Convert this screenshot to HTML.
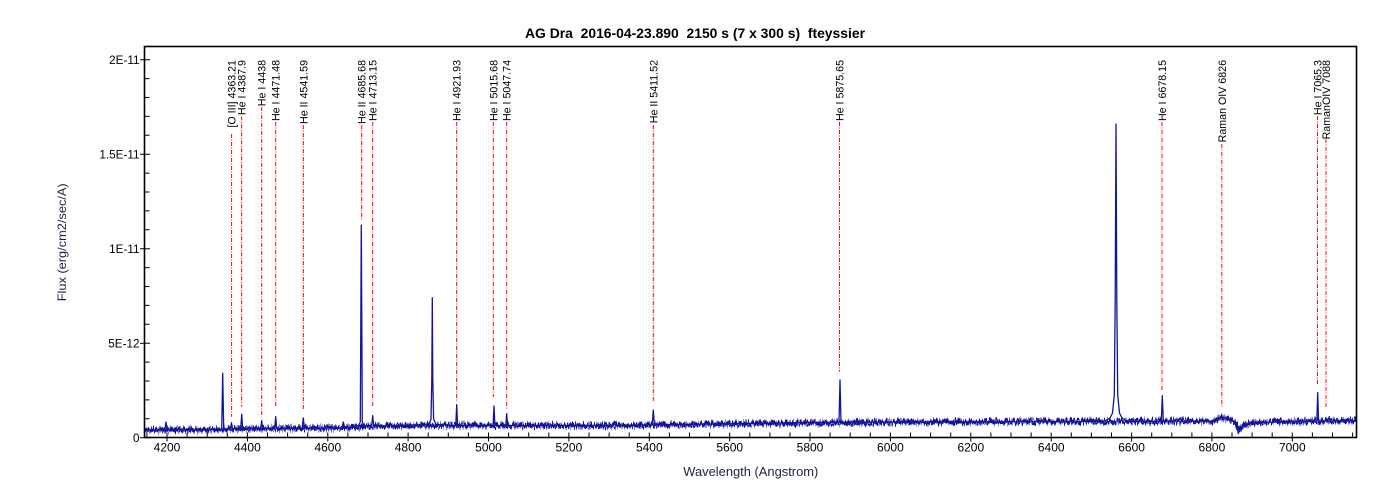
<!DOCTYPE html>
<html><head><meta charset="utf-8"><style>
html,body{margin:0;padding:0;background:#fff;}
svg{display:block;font-family:"Liberation Sans",Arial,sans-serif;}
</style></head><body>
<svg width="1400" height="500" viewBox="0 0 1400 500" xmlns="http://www.w3.org/2000/svg">
<rect width="1400" height="500" fill="#fff"/>
<defs>
<clipPath id="c"><rect x="145" y="47" width="1211" height="390"/></clipPath>
<filter id="nz" filterUnits="userSpaceOnUse" x="140" y="380" width="1225" height="70" color-interpolation-filters="sRGB">
<feTurbulence type="fractalNoise" baseFrequency="0.9 0.03" numOctaves="2" seed="7" result="t"/>
<feComponentTransfer in="t" result="t2"><feFuncR type="linear" slope="0" intercept="0.5"/><feFuncG type="linear" slope="2.2" intercept="-0.6"/></feComponentTransfer>
<feDisplacementMap in="SourceGraphic" in2="t2" scale="6" xChannelSelector="R" yChannelSelector="G"/>
</filter>
<filter id="nz2" filterUnits="userSpaceOnUse" x="140" y="380" width="1225" height="70" color-interpolation-filters="sRGB">
<feTurbulence type="fractalNoise" baseFrequency="0.7 0.03" numOctaves="2" seed="23" result="t"/>
<feComponentTransfer in="t" result="t2"><feFuncR type="linear" slope="0" intercept="0.5"/><feFuncG type="linear" slope="2.2" intercept="-0.6"/></feComponentTransfer>
<feDisplacementMap in="SourceGraphic" in2="t2" scale="5" xChannelSelector="R" yChannelSelector="G"/>
</filter>
</defs>

<text x="695" y="38" text-anchor="middle" font-size="14" font-weight="bold" fill="#000" textLength="340" lengthAdjust="spacingAndGlyphs" style="white-space:pre">AG Dra  2016-04-23.890  2150 s (7 x 300 s)  fteyssier</text>

<g stroke="#f00" stroke-width="1" stroke-dasharray="4 1.5 1 1.5" fill="none">
<path d="M231.6 134V416.7"/>
<path d="M241.7 116.5V406.7"/>
<path d="M261.7 107V416.7"/>
<path d="M275.7 122V407.5"/>
<path d="M303.3 125V410"/>
<path d="M361.7 125V220"/>
<path d="M372.7 122V406"/>
<path d="M456.7 122V401.7"/>
<path d="M493.3 122V397"/>
<path d="M506.7 122V410"/>
<path d="M653.3 125V401.7"/>
<path d="M839.5 122V371.7"/>
<path d="M1162 122V390"/>
<path d="M1221.8 144V406.7"/>
<path d="M1317.5 116V385"/>
<path d="M1326 139V408.3"/>
</g>
<g font-size="10.67" fill="#000" text-anchor="end">
<text transform="translate(235.6,60) rotate(-90)">[O III] 4363.21</text>
<text transform="translate(245.7,60) rotate(-90)">He I 4387.9</text>
<text transform="translate(265.7,60) rotate(-90)">He I 4438</text>
<text transform="translate(279.7,60) rotate(-90)">He I 4471.48</text>
<text transform="translate(307.3,60) rotate(-90)">He II 4541.59</text>
<text transform="translate(365.7,60) rotate(-90)">He II 4685.68</text>
<text transform="translate(376.7,60) rotate(-90)">He I 4713.15</text>
<text transform="translate(460.7,60) rotate(-90)">He I 4921.93</text>
<text transform="translate(497.3,60) rotate(-90)">He I 5015.68</text>
<text transform="translate(510.7,60) rotate(-90)">He I 5047.74</text>
<text transform="translate(657.3,60) rotate(-90)">He II 5411.52</text>
<text transform="translate(843.5,60) rotate(-90)">He I 5875.65</text>
<text transform="translate(1166,60) rotate(-90)">He I 6678.15</text>
<text transform="translate(1225.8,60) rotate(-90)">Raman OIV 6826</text>
<text transform="translate(1321.5,60) rotate(-90)">He I 7065.3</text>
<text transform="translate(1330,60) rotate(-90)">RamanOIV 7088</text>
</g>

<g clip-path="url(#c)" fill="none" stroke="#14149a" stroke-linejoin="round">
<polyline filter="url(#nz)" stroke-width="3.6" points="144,430 200,430 220,429.5 250,428.6 340,428 355,427.2 380,426 430,425.5 600,425.7 700,424.5 800,423.2 900,422.2 1000,421.7 1100,421.5 1200,421 1212,421 1223,417.5 1232,421 1236,422.5 1239,431 1242,427 1250,422.5 1300,421.5 1357,420.5"/>
<polyline filter="url(#nz2)" stroke-width="2.6" points="144,430 200,430 220,429.5 250,428.6 340,428 355,427.2 380,426 430,425.5 600,425.7 700,424.5 800,423.2 900,422.2 1000,421.7 1100,421.5 1200,421 1212,421 1223,417.5 1232,421 1236,422.5 1239,431 1242,427 1250,422.5 1300,421.5 1357,420.5"/>
<polyline stroke-width="1.3" points="144,430 164.8,430 166,422 167.2,430 220,429.5 221.7,429 222.7,373.3 223.7,429 230.5,428.6 231.5,422.7 232.5,428.6 240.7,428.5 241.7,414.3 242.7,428.5 260.7,428.4 261.7,420.7 262.7,428.4 274.7,428.3 275.7,416.7 276.7,428.3 302.2,428.2 303.3,418 304.4,428.2 341.8,427.8 343.3,422 344.8,427.8 355,427 358.5,425.5 360.3,422 361.3,225 362.3,422 364,425.5 371.7,426.2 372.7,415.7 373.7,426.2 429,424.5 431,419 431.8,380 432.3,297.7 432.8,380 433.6,419 436,424.5 455.8,425.5 456.7,404.7 457.6,425.5 493.1,425.5 494,406 494.9,425.5 505.8,425.5 506.7,413.7 507.6,425.5 613,425.5 615,421.5 617,425.5 652.2,424.8 653.3,410 654.4,424.8 839,422.2 840,380 841,422.2 1100,421.5 1106,420.5 1110,418 1112.5,413 1114.3,395 1115.2,300 1116,124 1116.8,300 1117.7,395 1119.5,413 1122,418 1126,420.5 1132,421.3 1161.3,421.2 1162.3,395.7 1163.3,421.2 1212,421 1223,417.3 1232,421 1236,422.5 1239,430.7 1242,426.5 1250,422.5 1316.8,421.3 1317.7,392.7 1318.6,421.3 1325,421.2 1326,418 1327,421.2 1357,420.5"/>
</g>

<rect x="144.5" y="46.5" width="1212" height="391" fill="none" stroke="#000" stroke-width="1.6"/>

<g stroke="#000" stroke-width="1">
<path d="M140 437.7H150M140 343.2H150M140 248.7H150M140 154.2H150M140 59.7H150"/>
<path d="M144.5 418.8H149.5M144.5 399.9H149.5M144.5 381H149.5M144.5 362.1H149.5M144.5 324.3H149.5M144.5 305.4H149.5M144.5 286.5H149.5M144.5 267.6H149.5M144.5 229.8H149.5M144.5 210.9H149.5M144.5 192H149.5M144.5 173.1H149.5M144.5 135.3H149.5M144.5 116.4H149.5M144.5 97.5H149.5M144.5 78.6H149.5"/>
<path d="M167 432.5V441.5M247.4 432.5V441.5M327.8 432.5V441.5M408.1 432.5V441.5M488.5 432.5V441.5M568.9 432.5V441.5M649.3 432.5V441.5M729.7 432.5V441.5M810 432.5V441.5M890.4 432.5V441.5M970.8 432.5V441.5M1051.2 432.5V441.5M1131.6 432.5V441.5M1211.9 432.5V441.5M1292.3 432.5V441.5"/>
<path d="M146.9 437.5v-5M187.1 437.5v-5M207.2 437.5v-5M227.3 437.5v-5M267.5 437.5v-5M287.6 437.5v-5M307.7 437.5v-5M347.9 437.5v-5M368 437.5v-5M388 437.5v-5M428.2 437.5v-5M448.3 437.5v-5M468.4 437.5v-5M508.6 437.5v-5M528.7 437.5v-5M548.8 437.5v-5M589 437.5v-5M609.1 437.5v-5M629.2 437.5v-5M669.4 437.5v-5M689.5 437.5v-5M709.6 437.5v-5M749.8 437.5v-5M769.9 437.5v-5M790 437.5v-5M830.1 437.5v-5M850.2 437.5v-5M870.3 437.5v-5M910.5 437.5v-5M930.6 437.5v-5M950.7 437.5v-5M990.9 437.5v-5M1011 437.5v-5M1031.1 437.5v-5M1071.3 437.5v-5M1091.4 437.5v-5M1111.5 437.5v-5M1151.7 437.5v-5M1171.8 437.5v-5M1191.9 437.5v-5M1232 437.5v-5M1252.1 437.5v-5M1272.2 437.5v-5M1312.4 437.5v-5M1332.5 437.5v-5M1352.6 437.5v-5"/>
</g>

<g font-size="11.7" fill="#000" text-anchor="end">
<text x="139.5" y="442">0</text>
<text x="139.5" y="347.4">5E-12</text>
<text x="139.5" y="252.9">1E-11</text>
<text x="139.5" y="158.4">1.5E-11</text>
<text x="139.5" y="63.9">2E-11</text>
</g>
<g font-size="12" fill="#000" text-anchor="middle">
<text x="167" y="451.5">4200</text>
<text x="247.4" y="451.5">4400</text>
<text x="327.8" y="451.5">4600</text>
<text x="408.1" y="451.5">4800</text>
<text x="488.5" y="451.5">5000</text>
<text x="568.9" y="451.5">5200</text>
<text x="649.3" y="451.5">5400</text>
<text x="729.7" y="451.5">5600</text>
<text x="810" y="451.5">5800</text>
<text x="890.4" y="451.5">6000</text>
<text x="970.8" y="451.5">6200</text>
<text x="1051.2" y="451.5">6400</text>
<text x="1131.6" y="451.5">6600</text>
<text x="1211.9" y="451.5">6800</text>
<text x="1292.3" y="451.5">7000</text>
</g>

<text x="750.8" y="476" font-size="12.5" fill="#1a2440" text-anchor="middle" textLength="135" lengthAdjust="spacingAndGlyphs">Wavelength (Angstrom)</text>
<text transform="translate(66,242.3) rotate(-90)" font-size="12" fill="#1a2440" text-anchor="middle" textLength="118" lengthAdjust="spacingAndGlyphs">Flux (erg/cm2/sec/A)</text>
</svg>
</body></html>
